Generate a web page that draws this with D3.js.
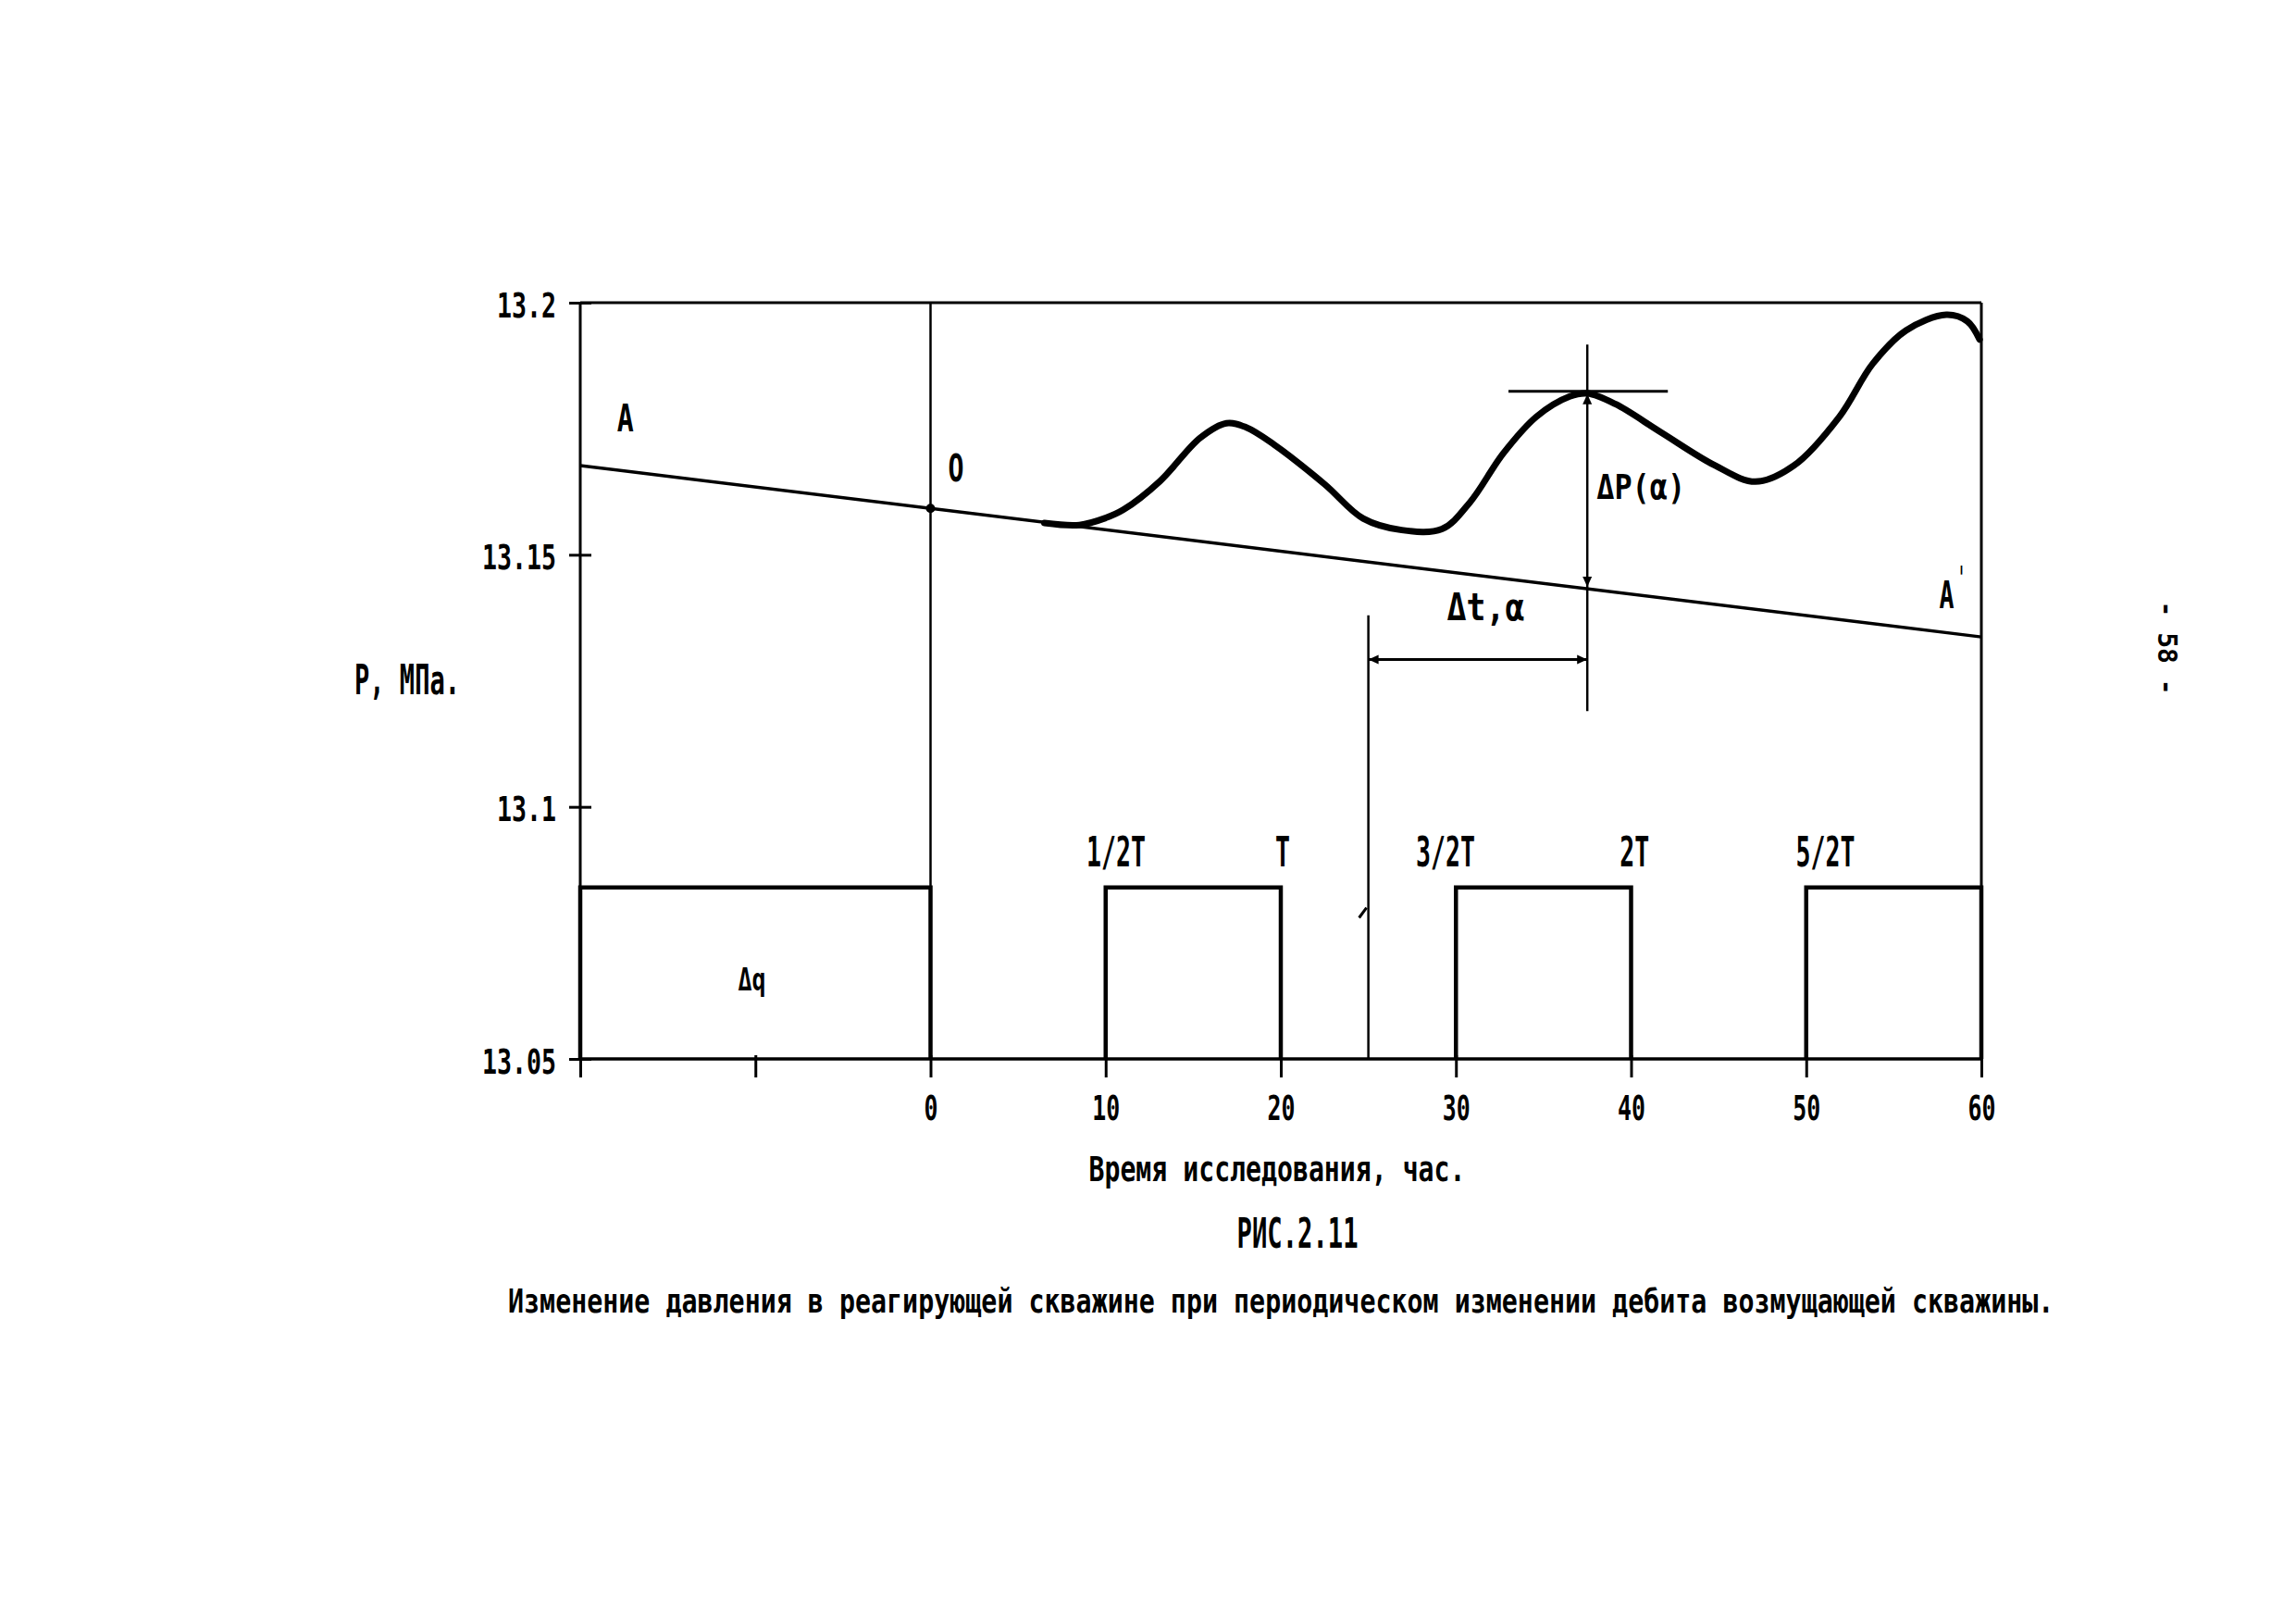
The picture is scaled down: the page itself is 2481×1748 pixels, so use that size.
<!DOCTYPE html>
<html><head><meta charset="utf-8">
<script src="https://cdn.jsdelivr.net/npm/d3@7"></script>
<style>body{margin:0;background:#fff} svg{display:block}</style>
</head><body>
<svg id="chart" width="2481" height="1748"></svg>
<script>
// ---- data ----
const xTicks = [-20, -10, 0, 10, 20, 30, 40, 50, 60];
const xTickLabels = ["", "", "0", "10", "20", "30", "40", "50", "60"];
const yTicks = [13.05, 13.1, 13.15, 13.2];
const yTickLabels = ["13.05", "13.1", "13.15", "13.2"];

const trendT = [-20, 60];
const trendP = [13.1677, 13.1337];

const responseT = [6.5, 8.5, 10.0, 11.0, 13.1, 15.4, 16.9, 18.0, 19.6, 22.5, 24.7, 26.9, 29.2, 30.8, 32.7, 34.6, 36.5, 37.5, 39.1, 41.7, 44.8, 47.1, 49.3, 51.9, 53.8, 55.7, 58.0, 59.2, 59.9];
const responseP = [13.1563, 13.1559, 13.1573, 13.1589, 13.1646, 13.1732, 13.1761, 13.1753, 13.1719, 13.1640, 13.1572, 13.1549, 13.1551, 13.1604, 13.1701, 13.1774, 13.1814, 13.1820, 13.1799, 13.1743, 13.1677, 13.1645, 13.1677, 13.1774, 13.1879, 13.1945, 13.1976, 13.1963, 13.1927];

const pulseStart = [-20, 10, 30, 50];
const pulseEnd = [0, 20, 40, 60];
const pulseLevel = 13.084;
const baseLevel = 13.05;

const periodLabels = ["1/2T", "T", "3/2T", "2T", "5/2T"];
const periodT = [10.6, 20.1, 29.4, 40.2, 51.1];

const lagStartT = 25, lagEndT = 37.5;
const lagTopP = 13.1380, lagArrowP = 13.1292;
const ampTopP = 13.1917, ampBottomP = 13.119;
const peakP = 13.1824, peakLineT = [33.0, 42.1];
const markT = 0;

const caption = "Изменение давления в реагирующей скважине при периодическом изменении дебита возмущающей скважины.";

// ---- layout ----
const svg = d3.select("#chart");
const FONT = "'DejaVu Sans Mono', monospace";
const x = d3.scaleLinear().domain([-20, 60]).range([627, 2141]);
const y = d3.scaleLinear().domain([13.05, 13.2]).range([1144, 327]);

function ctext(px, py, str, size, width, anchor) {
  let x0 = px;
  if (anchor === "middle") x0 = px - width / 2;
  if (anchor === "end") x0 = px - width;
  return svg.append("text")
    .attr("x", x0).attr("y", py)
    .attr("font-family", FONT).attr("font-weight", "bold")
    .attr("font-size", size)
    .attr("textLength", width).attr("lengthAdjust", "spacingAndGlyphs")
    .attr("fill", "#000").text(str);
}

// frame
const frame = svg.append("g").attr("stroke", "#000").attr("fill", "none");
frame.append("line").attr("x1", x(-20)).attr("x2", x(60)).attr("y1", y(13.2)).attr("y2", y(13.2)).attr("stroke-width", 3);
frame.append("line").attr("x1", x(60)).attr("x2", x(60)).attr("y1", y(13.2)).attr("y2", y(13.05)).attr("stroke-width", 3);
frame.append("line").attr("x1", x(-20)).attr("x2", x(-20)).attr("y1", y(13.2)).attr("y2", y(13.05)).attr("stroke-width", 3);
frame.append("line").attr("x1", x(-20)).attr("x2", x(60)).attr("y1", y(13.05)).attr("y2", y(13.05)).attr("stroke-width", 3.5);
frame.append("line").attr("x1", x(markT)).attr("x2", x(markT)).attr("y1", y(13.2)).attr("y2", y(13.05)).attr("stroke-width", 2.5);

// axes (ticks)
const xAxis = d3.axisBottom(x).tickValues(xTicks).tickSize(20).tickSizeOuter(0).tickFormat(() => "");
const gx = svg.append("g").attr("transform", `translate(0,${y(13.05)})`).call(xAxis);
gx.select(".domain").remove();
gx.selectAll(".tick line").attr("y1", -4).attr("stroke-width", 3);
gx.selectAll(".tick").each(function(d, i) {
  const s = xTickLabels[i];
  if (!s) return;
  const w = s.length * 15;
  d3.select(this).append("text")
    .attr("x", -w / 2).attr("y", 66).attr("fill", "#000")
    .attr("font-family", FONT).attr("font-weight", "bold").attr("font-size", 37)
    .attr("text-anchor", "start")
    .attr("textLength", w).attr("lengthAdjust", "spacingAndGlyphs").text(s);
});

const yAxis = d3.axisLeft(y).tickValues(yTicks).tickSize(12).tickSizeOuter(0).tickFormat(() => "");
const gy = svg.append("g").attr("transform", `translate(${x(-20)},0)`).call(yAxis);
gy.select(".domain").remove();
gy.selectAll(".tick line").attr("x1", 12).attr("stroke-width", 3);
gy.selectAll(".tick").each(function(d, i) {
  const s = yTickLabels[i];
  const w = s.length * 16;
  d3.select(this).append("text")
    .attr("x", -26 - w).attr("y", 15).attr("fill", "#000")
    .attr("font-family", FONT).attr("font-weight", "bold").attr("font-size", 38)
    .attr("text-anchor", "start")
    .attr("textLength", w).attr("lengthAdjust", "spacingAndGlyphs").text(s);
});

// trend line A-A'
const line = d3.line().x(d => x(d[0])).y(d => y(d[1]));
svg.append("path").datum(trendT.map((t, i) => [t, trendP[i]]))
  .attr("d", line).attr("fill", "none").attr("stroke", "#000").attr("stroke-width", 3.5);
svg.append("circle").attr("cx", x(0)).attr("cy", y(trendP[0] + (trendP[1] - trendP[0]) * 20 / 80)).attr("r", 5).attr("fill", "#000");

// response curve
const curve = d3.line().x(d => x(d[0])).y(d => y(d[1])).curve(d3.curveCatmullRom.alpha(0.5));
svg.append("path").datum(responseT.map((t, i) => [t, responseP[i]]))
  .attr("d", curve).attr("fill", "none").attr("stroke", "#000").attr("stroke-width", 7)
  .attr("stroke-linejoin", "round").attr("stroke-linecap", "round");

// pulses
pulseStart.forEach((s, i) => {
  const e = pulseEnd[i];
  svg.append("path")
    .attr("d", `M${x(s)},${y(baseLevel)}V${y(pulseLevel)}H${x(e)}V${y(baseLevel)}`)
    .attr("fill", "none").attr("stroke", "#000").attr("stroke-width", 4.5);
});

// period labels
periodLabels.forEach((s, i) => {
  ctext(x(periodT[i]), y(pulseLevel) - 23, s, 44, s.length * 16, "middle");
});

// lag bracket
const ann = svg.append("g").attr("stroke", "#000").attr("fill", "none");
ann.append("line").attr("x1", x(lagStartT)).attr("x2", x(lagStartT)).attr("y1", y(lagTopP)).attr("y2", y(baseLevel)).attr("stroke-width", 2.5);
ann.append("line").attr("x1", x(lagStartT)).attr("x2", x(lagEndT)).attr("y1", y(lagArrowP)).attr("y2", y(lagArrowP)).attr("stroke-width", 3);
ann.append("line").attr("x1", x(lagEndT)).attr("x2", x(lagEndT)).attr("y1", y(ampTopP)).attr("y2", y(ampBottomP)).attr("stroke-width", 2.5);
ann.append("line").attr("x1", x(peakLineT[0])).attr("x2", x(peakLineT[1])).attr("y1", y(peakP)).attr("y2", y(peakP)).attr("stroke-width", 3);
// small hook mark near lag line
ann.append("path").attr("d", `M${x(lagStartT) - 10},${y(13.078)} L${x(lagStartT) - 2},${y(13.080)}`).attr("stroke-width", 3);

function arrow(px, py, dir) {
  const L = 11, W = 5;
  let p;
  if (dir === "left") p = [[px, py], [px + L, py - W], [px + L, py + W]];
  if (dir === "right") p = [[px, py], [px - L, py - W], [px - L, py + W]];
  if (dir === "up") p = [[px, py], [px - W, py + L], [px + W, py + L]];
  if (dir === "down") p = [[px, py], [px - W, py - L], [px + W, py - L]];
  svg.append("path").attr("d", "M" + p.map(q => q.join(",")).join("L") + "Z").attr("fill", "#000");
}
arrow(x(lagStartT), y(lagArrowP), "left");
arrow(x(lagEndT), y(lagArrowP), "right");
const lineAtLag = trendP[0] + (trendP[1] - trendP[0]) * (lagEndT + 20) / 80;
arrow(x(lagEndT), y(peakP) + 3, "up");
arrow(x(lagEndT), y(lineAtLag) - 2, "down");

// labels
ctext(x(-17.9), y(13.1745), "A", 40, 18, "start");
ctext(x(1.0), y(13.1646), "O", 40, 17, "start");
ctext(x(57.6), y(13.1394), "A", 40, 16, "start");
ctext(x(57.6) + 20, y(13.1394) - 20, "'", 36, 8, "start");
ctext(x(37.5) + 10, y(13.1610), "ΔP(α)", 38, 96, "start");
ctext(x(31.7), y(13.1370), "Δt,α", 40, 84, "middle");
ctext(x(-10.2), y(13.0635), "Δq", 34, 30, "middle");

// axis titles & captions
ctext(383, 750, "Р, МПа.", 44, 114, "start");
ctext(1380, 1276, "Время исследования, час.", 38, 407, "middle");
ctext(1402, 1348, "РИС.2.11", 44, 131, "middle");
// caption: condensed by a horizontal scale (natural width ~ 97 * 0.602 * 36)
const capW = caption.length * 0.602 * 36;
svg.append("text").attr("transform", `translate(549,1418) scale(${1671 / capW},1)`)
  .attr("font-family", FONT).attr("font-weight", "bold").attr("font-size", 36)
  .attr("fill", "#000").text(caption);

// page number in margin
svg.append("text").attr("transform", "translate(2332,700) rotate(90)")
  .attr("text-anchor", "middle").attr("font-family", FONT).attr("font-weight", "bold")
  .attr("font-size", 28).attr("fill", "#000").text("- 58 -");
</script>
</body></html>
